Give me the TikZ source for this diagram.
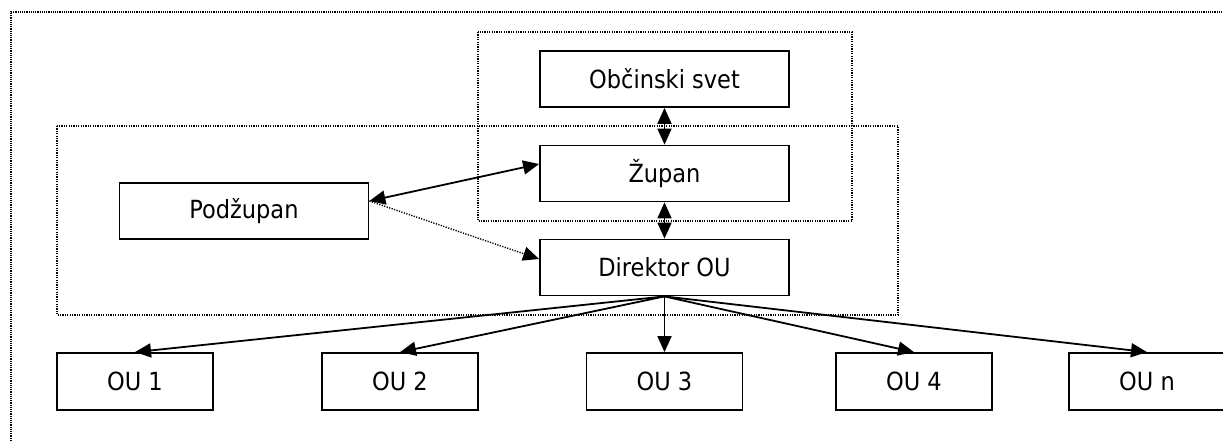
\documentclass[tikz,border=0pt]{standalone}
\usepackage{fontspec}
\setmainfont{DejaVu Sans Condensed}
\usetikzlibrary{arrows.meta}

\begin{document}
\begin{tikzpicture}[x=0.5pt, y=-0.5pt,
box/.style={draw, line width=0.9pt, rectangle, inner sep=0pt, minimum width=124.5pt, minimum height=28pt, font=\fontsize{12.5}{15}\selectfont},
unit/.style={box, minimum width=78pt, minimum height=28.5pt},
link/.style={line width=0.9pt, -{Triangle[length=8pt,width=7pt]}},
both/.style={line width=0.9pt, {Triangle[length=8pt,width=7pt]}-{Triangle[length=8pt,width=7pt]}},
hint/.style={line width=0.7pt, dash pattern=on 0.6pt off 0.7pt, -{Triangle[length=8pt,width=7pt]}},
group/.style={line width=0.6pt, dash pattern=on 0.6pt off 0.6pt}
]
\useasboundingbox (0,0) rectangle (1223,441);

% frames
\draw[line width=0.9pt, dash pattern=on 0.6pt off 0.5pt] (11,441) |- (1223,12);
\draw[group] (478,32) rectangle (852,221);
\draw[group] (57,126) rectangle (898,315);

% leadership
\node[box] (svet) at (664.5,79) {Občinski svet};
\node[box] (zupan) at (664.5,173.5) {Župan};
\node[box] (direktor) at (664.5,267.5) {Direktor OU};
\node[box] (podzupan) at (244,211) {Podžupan};

% units
\node[unit] (ou1) at (135,381.5) {OU 1};
\node[unit] (ou2) at (400,381.5) {OU 2};
\node[unit] (ou3) at (664.5,381.5) {OU 3};
\node[unit] (ou4) at (914,381.5) {OU 4};
\node[unit] (oun) at (1147,381.5) {OU n};

\draw[both] (svet) -- (zupan);
\draw[both] (zupan) -- (direktor);
\draw[both] ([yshift=5pt]podzupan.east) -- ([yshift=4.75pt]zupan.west);
\draw[hint] ([yshift=5pt]podzupan.east) -- ([yshift=4.25pt]direktor.west);

\foreach \u in {ou1,ou2,ou3,ou4,oun}
  \draw[link] (direktor.south) -- (\u.north);
\end{tikzpicture}
\end{document}
